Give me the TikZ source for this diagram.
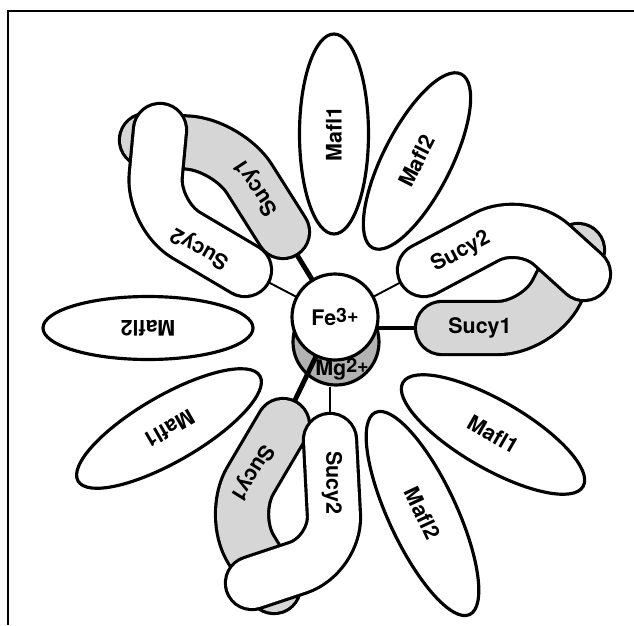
\documentclass[tikz,border=0pt]{standalone}
\usepackage{fontspec}
\setmainfont{TeX Gyre Heros}
\usetikzlibrary{shapes.geometric}
\newcommand{\chg}[2]{#1\raisebox{1pt}{\fontsize{5.6}{6}\selectfont#2}}

\begin{document}
\begin{tikzpicture}[font=\bfseries\fontsize{6.1}{7}\selectfont,
  mafl/.style={ellipse,draw,fill=white,line width=0.9pt,inner sep=0pt},
  ion/.style={circle,draw,line width=0.9pt,minimum size=8.6mm,inner sep=0pt},
  sucy/.style={double=#1,double distance=5mm,line width=0.9pt,
    line cap=round,line join=round,rounded corners=4mm},
  link/.style={line width=0.55pt},
  bond/.style={line width=1.4pt}]
\useasboundingbox (0,0) rectangle (6.34,6.25);
\draw[line width=0.6pt] (0.08,0) -- (0.08,6.14) -- (6.34,6.14);

% ends of the Sucy arms
\coordinate (a1) at (1.46,4.85);
\coordinate (a2) at (2.28,4.80);
\coordinate (a3) at (2.83,3.93);
\coordinate (b1) at (1.60,4.95);
\coordinate (b2) at (1.52,4.10);
\coordinate (b3) at (2.45,3.55);
\coordinate (c1) at (4.42,2.97);
\coordinate (c2) at (5.38,2.97);
\coordinate (c3) at (5.78,3.75);
\coordinate (d1) at (4.24,3.55);
\coordinate (d2) at (5.22,4.07);
\coordinate (d3) at (5.84,3.51);
\coordinate (e1) at (2.83,2.00);
\coordinate (e2) at (2.30,1.10);
\coordinate (e3) at (2.74,0.38);
\coordinate (f1) at (3.30,1.85);
\coordinate (f2) at (3.36,0.70);
\coordinate (f3) at (2.52,0.42);
\coordinate (fec) at (3.35,3.08);

\node[ion,fill=gray!60] (mg) at (3.36,2.83) {};
\node[inner sep=0pt] (mgt) at (3.42,2.56) {\chg{Mg}{2+}};

\draw[bond] (a3) -- (fec);
\draw[link] (b3) -- (fec);
\draw[link] (d1) -- (fec);
\draw[bond] (c1) -- (c1 -| fec);
\draw[bond] (e1) -- (fec);
\draw[link] (f1) -- (f1 |- mg.south);

\node[mafl,minimum width=20mm,minimum height=6.9mm,rotate=90] (m1a) at (3.34,4.91) {Mafl1};
\node[mafl,minimum width=19.5mm,minimum height=6.8mm,rotate=63] (m2a) at (4.17,4.64) {Mafl2};
\node[mafl,minimum width=21mm,minimum height=6.3mm,rotate=180] (m2b) at (1.48,2.97) {Mafl2};
\node[mafl,minimum width=21mm,minimum height=6.6mm,rotate=210] (m1b) at (1.69,1.965) {Mafl1};
\node[mafl,minimum width=20.8mm,minimum height=6.8mm,rotate=-30] (m1c) at (4.93,1.905) {Mafl1};
\node[mafl,minimum width=22.3mm,minimum height=6.8mm,rotate=-65] (m2c) at (4.225,1.115) {Mafl2};

\draw[sucy=gray!32] (a1) -- (a2) -- (a3);
\draw[sucy=white] (b1) -- (b2) -- (b3);
\draw[sucy=gray!32] (c1) -- (c2) -- (c3);
\draw[sucy=white] (d1) -- (d2) -- (d3);
\draw[sucy=gray!32] (e1) -- (e2) -- (e3);
\draw[sucy=white] (f1) -- (f2) -- (f3);

\node[rotate=123] (s1a) at (2.57,4.38) {Sucy1};
\node[rotate=150] (s2a) at (2.00,3.77) {Sucy2};
\node (s1b) at (4.80,2.97) {Sucy1};
\node[rotate=28] (s2b) at (4.61,3.73) {Sucy2};
\node[rotate=-122] (s1c) at (2.52,1.52) {Sucy1};
\node[rotate=-90] (s2c) at (3.32,1.42) {Sucy2};

\node[ion,fill=white] (fe) at (fec) {\chg{Fe}{3+}};
\end{tikzpicture}
\end{document}
